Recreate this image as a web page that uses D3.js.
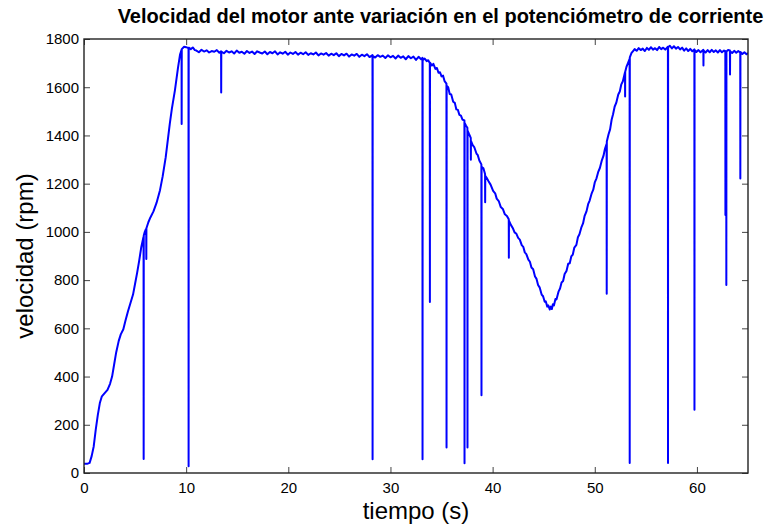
<!DOCTYPE html>
<html><head><meta charset="utf-8">
<script src="https://cdn.jsdelivr.net/npm/d3@7"></script>
<style>body{margin:0;background:#fff} svg text{font-family:"Liberation Sans",Arial,Helvetica,sans-serif}</style>
</head><body><svg id="c" width="781" height="529"></svg>
<script>
// ---- data: [tiempo (s), velocidad (rpm)] ----
const arranque = [
[0,38],[0.3,38],[0.55,42],[0.75,70],[0.95,110],[1.15,180],[1.35,240],[1.55,290],[1.75,318],[2.0,330],
[2.3,345],[2.55,370],[2.75,400],[2.95,450],[3.15,500],[3.4,548],[3.6,575],[3.85,596],[4.05,630],[4.3,670],
[4.55,705],[4.8,740],[5.0,785],[5.2,830],[5.4,880],[5.6,935],[5.8,975],[5.83,980],[5.84,58],[5.85,985],
[5.95,1000],[6.05,1010],[6.09,1012],[6.1,888],[6.11,1015],[6.3,1040],[6.5,1060],[6.8,1085],[7.1,1120],
[7.44,1173],[7.7,1230],[8.0,1310],[8.4,1449],[8.6,1510],[8.9,1587],[9.2,1680],[9.4,1735],[9.55,1755],
[9.56,1447],[9.57,1758],[9.8,1768],[10.0,1766],[10.23,1762],[10.24,28],[10.25,1764],[10.45,1758],
[10.65,1765],[10.85,1754]
];
const meseta1 = [
[11.0,1752],[11.25,1745],[11.5,1755],[11.75,1748],[12.0,1753],[12.25,1744],[12.5,1750],[12.75,1747],
[13.0,1754],[13.25,1743],[13.42,1749],[13.43,1578],[13.44,1748],[13.7,1741],[13.95,1751],[14.2,1744],
[14.45,1749],[14.7,1740],[14.95,1752],[15.2,1743],[15.45,1747],[15.7,1739],[15.95,1750],[16.2,1742],
[16.45,1748],[16.7,1738],[16.95,1749],[17.2,1744],[17.45,1740],[17.7,1748],[17.95,1737],[18.2,1746],
[18.45,1741],[18.7,1749],[18.95,1736],[19.2,1745],[19.45,1739],[19.7,1747],[19.95,1735],[20.2,1744],
[20.45,1738],[20.7,1746],[20.95,1735],[21.2,1743],[21.45,1737],[21.7,1745],[21.95,1734],[22.2,1741],
[22.45,1736],[22.7,1744],[22.95,1732],[23.2,1740],[23.45,1735],[23.7,1742],[23.95,1731],[24.2,1739],
[24.45,1733],[24.7,1741],[24.95,1729],[25.2,1738],[25.45,1732],[25.7,1739],[25.95,1727],[26.2,1736],
[26.45,1731],[26.7,1738],[26.95,1726],[27.2,1735],[27.45,1729],[27.7,1737],[27.95,1725],[28.24,1733],
[28.25,57],[28.26,1730],[28.5,1723],[28.75,1733],[29.0,1726],[29.25,1731],[29.5,1721],[29.75,1732],
[30.0,1724],[30.25,1730],[30.5,1719],[30.75,1731],[31.0,1722],[31.25,1728],[31.5,1716],[31.75,1729],
[32.0,1720],[32.25,1727],[32.5,1713],[32.75,1726],[33.0,1716],[33.13,1722],[33.14,57],[33.15,1712],
[33.35,1719],[33.55,1708]
];
const descenso = [
[33.7,1712],[33.85,1700],[33.86,709],[33.87,1703],[34.05,1690],[34.2,1697],[34.4,1676],[34.55,1680],
[34.7,1660],[34.85,1662],[35.0,1645],[35.15,1648],[35.3,1625],[35.48,1615],[35.49,106],[35.5,1606],
[35.65,1600],[35.8,1572],[35.95,1570],[36.14,1540],[36.3,1535],[36.45,1508],[36.6,1506],[36.75,1485],
[36.9,1482],[37.05,1466],[37.24,1462],[37.25,40],[37.26,1452],[37.4,1440],[37.53,1432],[37.54,106],
[37.55,1420],[37.7,1405],[37.86,1390],[37.87,1299],[37.88,1378],[38.05,1360],[38.2,1352],[38.42,1325],
[38.55,1318],[38.7,1296],[38.9,1280],[38.91,322],[38.92,1270],[39.1,1264],[39.26,1240],[39.27,1123],
[39.28,1232],[39.45,1222],[39.6,1210],[39.8,1196],[40.05,1170],[40.25,1160],[40.4,1138],[40.6,1128],
[40.8,1103],[41.0,1095],[41.2,1073],[41.4,1066],[41.58,1052],[41.59,893],[41.6,1046],[41.8,1028],
[42.0,1014],[42.15,998],[42.33,992],[42.5,975],[42.66,968],[42.85,945],[43.0,938],[43.15,915],
[43.3,908],[43.5,885],[43.65,876],[43.8,852],[43.97,845],[44.15,815],[44.3,805],[44.45,780],[44.6,770],
[44.8,740],[44.94,733],[45.1,710],[45.2,712],[45.35,690],[45.45,695],[45.6,678]
];
const ascenso = [
[45.7,690],[45.8,680],[45.9,700],[46.0,695],[46.15,722],[46.25,720],[46.45,752],[46.6,765],[46.75,790],
[46.9,796],[47.05,825],[47.23,838],[47.4,868],[47.55,870],[47.7,898],[47.85,906],[48.0,935],[48.2,946],
[48.35,978],[48.5,990],[48.7,1020],[48.85,1035],[49.0,1065],[49.19,1085],[49.35,1115],[49.5,1130],
[49.7,1160],[49.85,1175],[50.0,1205],[50.17,1222],[50.35,1250],[50.5,1265],[50.7,1298],[50.85,1315],
[51.0,1345],[51.16,1365],[51.17,743],[51.18,1375],[51.35,1405],[51.5,1425],[51.65,1465],[51.79,1488],
[51.95,1520],[52.1,1535],[52.3,1570],[52.45,1582],[52.6,1612],[52.75,1625],[52.96,1662],[52.97,1562],
[52.98,1664],[53.1,1684],[53.25,1700],[53.41,1718],[53.42,41],[53.43,1724],[53.6,1742],[53.75,1750]
];
const meseta2 = [
[53.9,1758],[54.1,1751],[54.3,1762],[54.5,1754],[54.7,1760],[54.9,1750],[55.1,1763],[55.3,1755],
[55.5,1766],[55.7,1756],[55.9,1762],[56.1,1754],[56.3,1767],[56.5,1758],[56.7,1764],[56.9,1756],
[57.16,1768],[57.17,41],[57.18,1766],[57.35,1772],[57.55,1761],[57.75,1770],[57.95,1760],[58.15,1767],
[58.35,1757],[58.55,1764],[58.75,1752],[58.95,1761],[59.15,1750],[59.35,1759],[59.55,1749],[59.75,1757],
[59.76,262],[59.77,1755],[59.95,1746],[60.15,1754],[60.35,1745],[60.63,1755],[60.64,1690],[60.65,1752],
[60.85,1744],[61.05,1754],[61.25,1745],[61.45,1755],[61.65,1746],[61.85,1753],[62.05,1744],[62.25,1754],
[62.45,1745],[62.65,1752],[62.78,1747],[62.79,1070],[62.8,1750],[62.87,1746],[62.88,780],[62.89,1748],
[63.05,1754],[63.23,1752],[63.24,1653],[63.25,1749],[63.45,1742],[63.65,1751],[63.85,1743],[64.05,1750],
[64.24,1744],[64.25,1221],[64.26,1746],[64.45,1738],[64.65,1745],[64.85,1737],[65.0,1742]
];
const xTicks = [0,10,20,30,40,50,60];
const yTicks = [0,200,400,600,800,1000,1200,1400,1600,1800];
const titulo = "Velocidad del motor ante variación en el potenciómetro de corriente";
const xLabel = "tiempo (s)";
const yLabel = "velocidad (rpm)";

// ---- drawing ----
const svg = d3.select("#c");
const L=84, R=748, T=39, B=473;
const x = d3.scaleLinear().domain([0,65]).range([L,R]);
const y = d3.scaleLinear().domain([0,1800]).range([B,T]);
const serie = [].concat(arranque, meseta1, descenso, ascenso, meseta2);

svg.append("rect").attr("x",0).attr("y",0).attr("width",781).attr("height",529).attr("fill","#fff");

svg.append("defs").append("clipPath").attr("id","clip")
  .append("rect").attr("x",L).attr("y",T).attr("width",R-L).attr("height",B-T);

function styleAxis(g){
  g.select(".domain").remove();
  g.selectAll(".tick line").attr("stroke","#444").attr("stroke-width",1);
  g.selectAll(".tick text").attr("fill","#000").style("font-size","15px")
   .style("font-family",'"Liberation Sans",Arial,sans-serif');
}
svg.append("g").attr("transform",`translate(0,${B})`)
  .call(d3.axisBottom(x).tickValues(xTicks).tickSize(-6).tickPadding(9).tickFormat(d3.format("d")))
  .call(styleAxis);
svg.append("g").attr("transform",`translate(${L},0)`)
  .call(d3.axisLeft(y).tickValues(yTicks).tickSize(-6).tickPadding(5).tickFormat(d3.format("d")))
  .call(styleAxis);
svg.append("g").attr("transform",`translate(0,${T})`)
  .call(d3.axisTop(x).tickValues(xTicks).tickSize(-6).tickFormat(""))
  .call(styleAxis);
svg.append("g").attr("transform",`translate(${R},0)`)
  .call(d3.axisRight(y).tickValues(yTicks).tickSize(-6).tickFormat(""))
  .call(styleAxis);

const line = d3.line().x(d=>x(d[0])).y(d=>y(d[1]));
svg.append("path").datum(serie).attr("clip-path","url(#clip)")
  .attr("d",line).attr("fill","none").attr("stroke","#0000ff")
  .attr("stroke-width",2).attr("stroke-linejoin","round");

svg.append("rect").attr("x",L).attr("y",T).attr("width",R-L).attr("height",B-T)
  .attr("fill","none").attr("stroke","#222").attr("stroke-width",1.4);

svg.append("text").attr("x",440.5).attr("y",23).attr("text-anchor","middle")
  .style("font-size","20px").style("font-weight","bold").text(titulo);
svg.append("text").attr("x",(L+R)/2).attr("y",519).attr("text-anchor","middle")
  .style("font-size","24px").text(xLabel);
svg.append("text").attr("transform",`translate(33,${(T+B)/2}) rotate(-90)`).attr("text-anchor","middle")
  .style("font-size","24px").text(yLabel);
</script></body></html>
